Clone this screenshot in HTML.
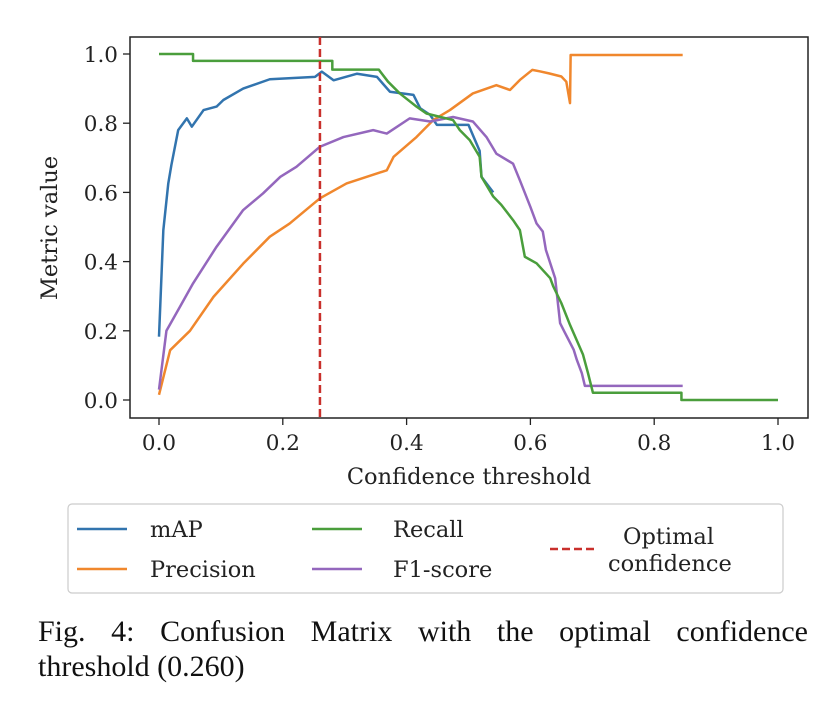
<!DOCTYPE html>
<html><head><meta charset="utf-8"><style>
body{margin:0;background:#fff;width:824px;height:706px;overflow:hidden}
svg text{font-family:"DejaVu Serif",serif;fill:#222}
.cap{position:absolute;left:38px;width:770px;font-family:"Liberation Serif",serif;font-size:30px;line-height:34px;color:#111;white-space:nowrap}
.l1{top:615px;text-align:justify;text-align-last:justify}
.l2{top:650px}
</style></head><body>
<svg id="chart" width="824" height="706" style="position:absolute;left:0;top:0"></svg>
<div class="cap l1" style="white-space:normal">Fig. 4: Confusion Matrix with the optimal confidence</div>
<div class="cap l2">threshold (0.260)</div>
<script>
const xTicks=[0,0.2,0.4,0.6,0.8,1.0];
const yTicks=[0,0.2,0.4,0.6,0.8,1.0];
const optimalConf=0.26;
const mapX=[0,0.007,0.015,0.02,0.031,0.045,0.053,0.072,0.093,0.104,0.136,0.179,0.252,0.263,0.282,0.32,0.352,0.373,0.411,0.422,0.438,0.449,0.5,0.518,0.521,0.54];
const mapY=[0.183,0.491,0.626,0.679,0.78,0.814,0.79,0.838,0.848,0.867,0.9,0.927,0.934,0.949,0.924,0.943,0.934,0.891,0.882,0.843,0.824,0.795,0.795,0.72,0.645,0.6];
const precX=[0,0.018,0.05,0.088,0.136,0.179,0.211,0.26,0.303,0.368,0.379,0.416,0.443,0.47,0.507,0.545,0.567,0.583,0.603,0.615,0.63,0.65,0.658,0.664,0.665,0.846];
const precY=[0.015,0.144,0.2,0.298,0.394,0.472,0.51,0.583,0.626,0.664,0.703,0.76,0.809,0.838,0.886,0.91,0.896,0.925,0.954,0.95,0.944,0.935,0.92,0.858,0.997,0.997];
const recX=[0,0.055,0.055,0.28,0.28,0.355,0.37,0.389,0.416,0.432,0.475,0.486,0.502,0.518,0.521,0.54,0.553,0.572,0.583,0.591,0.61,0.632,0.637,0.65,0.664,0.685,0.693,0.701,0.844,0.844,1.0];
const recY=[1.0,1.0,0.98,0.98,0.955,0.955,0.92,0.886,0.848,0.828,0.809,0.78,0.751,0.703,0.645,0.588,0.564,0.52,0.491,0.414,0.395,0.352,0.328,0.28,0.217,0.131,0.078,0.021,0.021,0.0,0.0];
const f1X=[0,0.012,0.034,0.055,0.093,0.136,0.168,0.196,0.222,0.26,0.298,0.346,0.368,0.405,0.438,0.475,0.507,0.529,0.545,0.572,0.583,0.6,0.61,0.62,0.625,0.64,0.648,0.655,0.67,0.675,0.683,0.688,0.846];
const f1Y=[0.03,0.2,0.27,0.337,0.443,0.549,0.597,0.645,0.674,0.732,0.76,0.78,0.77,0.814,0.805,0.818,0.805,0.76,0.712,0.683,0.635,0.558,0.51,0.487,0.434,0.352,0.222,0.197,0.145,0.116,0.078,0.041,0.041];
const NS="http://www.w3.org/2000/svg",svg=document.getElementById('chart');
const X=v=>159+v*619, Y=v=>400-v*346;
function mk(t,a,p){const e=document.createElementNS(NS,t);for(const k in a)e.setAttribute(k,a[k]);(p||svg).appendChild(e);return e;}
const frame=mk('rect',{x:130,y:37,width:678,height:381,fill:'none',stroke:'#222','stroke-width':1.5});


xTicks.forEach(v=>{const g=mk('g',{});


mk('line',{x1:X(v),x2:X(v),y1:418,y2:425,stroke:'#222','stroke-width':1.3},g);
const t=mk('text',{x:X(v),y:450,'text-anchor':'middle','font-size':21.5},g);t.textContent=v.toFixed(1);});
yTicks.forEach(v=>{const g=mk('g',{});


mk('line',{x1:123,x2:130,y1:Y(v),y2:Y(v),stroke:'#222','stroke-width':1.3},g);
const t=mk('text',{x:118,y:Y(v)+8,'text-anchor':'end','font-size':21.5},g);t.textContent=v.toFixed(1);});
const xt=mk('text',{x:469,y:484,'text-anchor':'middle','font-size':22.5});xt.textContent='Confidence threshold';


const yt=mk('text',{x:0,y:0,'text-anchor':'middle','font-size':22.5,transform:'translate(57,228) rotate(-90)'});yt.textContent='Metric value';


function line(xs,ys,c,name){const p=mk('polyline',{points:xs.map((x,i)=>X(x)+','+Y(ys[i])).join(' '),fill:'none',stroke:c,'stroke-width':2.5,'stroke-linejoin':'round'});

}
line(mapX,mapY,'#3274ae','map-line');
line(precX,precY,'#f0872d','precision-line');
line(f1X,f1Y,'#9467bd','f1-score-line');
line(recX,recY,'#4a9e3c','recall-line');
const oc=mk('line',{x1:X(optimalConf),x2:X(optimalConf),y1:37,y2:418,stroke:'#c9302c','stroke-width':2.5,'stroke-dasharray':'8,4'});


const lg=mk('g',{});


mk('rect',{x:68,y:504,width:715,height:89,rx:4,fill:'#fff',stroke:'#ccc','stroke-width':1.2},lg);
[['mAP','#3274ae',77,150,529],['Precision','#f0872d',77,150,569],['Recall','#4a9e3c',312,393,529],['F1-score','#9467bd',312,393,569]].forEach(e=>{
const g=mk('g',{},lg);


mk('line',{x1:e[2],x2:e[2]+50,y1:e[4],y2:e[4],stroke:e[1],'stroke-width':2.5},g);
const t=mk('text',{x:e[3],y:e[4]+8,'font-size':22.5},g);t.textContent=e[0];});
const og=mk('g',{},lg);


mk('line',{x1:550,x2:598,y1:549,y2:549,stroke:'#c9302c','stroke-width':2.5,'stroke-dasharray':'8,4'},og);
const t1=mk('text',{x:623,y:544,'font-size':22.5},og);t1.textContent='Optimal';
const t2=mk('text',{x:608,y:571,'font-size':22.5},og);t2.textContent='confidence';
</script>
</body></html>
